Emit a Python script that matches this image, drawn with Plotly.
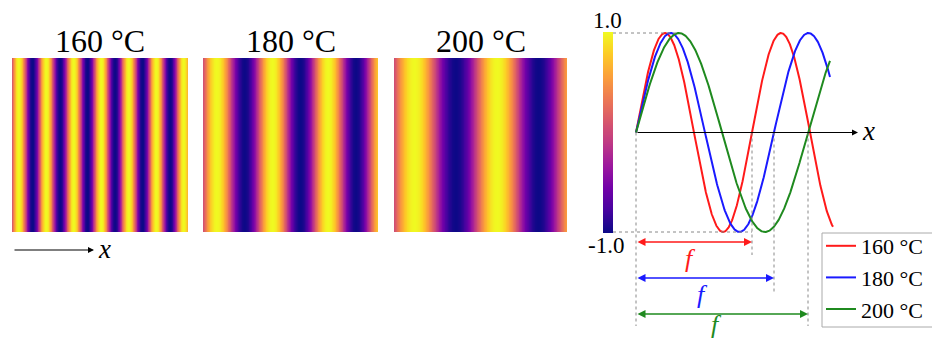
import numpy as np
import plotly.graph_objects as go

# ---------------- data ----------------
temps = ["160 °C", "180 °C", "200 °C"]
colors = ["#ff1a1a", "#1a1aff", "#1f8a1f"]
# stripe period of each heat-map panel (panel width = 176 units)
panel_width = 176
stripe_periods = [27.5, 56.0, 84.0]
# schematic waves on the right: period f of each temperature (a.u.)
wave_periods = [116, 138, 172]
wave_end = [197, 194, 194]
# value range of the colour bar
cb_min, cb_max = -1.0, 1.0
cb_labels = ["1.0", "-1.0"]

W, H = 932, 343
FONT = "Liberation Serif, Times New Roman, Times, serif"

def px(xp):
    return xp / W

def py(yp):
    return 1 - yp / H

fig = go.Figure()

# ---------------- heat-map panels ----------------
panel_x = [(12, 188), (203, 378), (394, 567)]
panel_y = (58, 232)
ncol = 400
xs = (np.arange(ncol) + 0.5) * panel_width / ncol
for i, P in enumerate(stripe_periods):
    z = np.sin(2 * np.pi * xs / P)
    sfx = "" if i == 0 else str(i + 1)
    fig.add_trace(go.Heatmap(
        x=xs, y=[0, 1], z=[z, z], colorscale="Plasma", zmin=-1, zmax=1,
        showscale=False, hoverinfo="skip", showlegend=False,
        xaxis="x" + sfx, yaxis="y" + sfx))
    fig.layout["xaxis" + sfx] = dict(domain=[px(panel_x[i][0]), px(panel_x[i][1])],
                                     range=[0, panel_width], visible=False, fixedrange=True)
    fig.layout["yaxis" + sfx] = dict(domain=[py(panel_y[1]), py(panel_y[0])],
                                     range=[-0.5, 1.5], visible=False, fixedrange=True)
    fig.add_annotation(text=temps[i], x=px((panel_x[i][0] + panel_x[i][1]) / 2), y=py(41),
                       xref="paper", yref="paper", showarrow=False,
                       font=dict(family=FONT, size=32, color="black"),
                       xanchor="center", yanchor="middle")

# arrow under the first panel
fig.add_annotation(x=px(94), y=py(250), xref="paper", yref="paper", ax=-81, ay=0,
                   text="", showarrow=True, arrowhead=2, arrowsize=1, arrowwidth=1.2,
                   arrowcolor="black")
fig.add_annotation(text="<i>x</i>", x=px(96), y=py(249), xref="paper", yref="paper",
                   showarrow=False, xanchor="left", yanchor="middle",
                   font=dict(family=FONT, size=27, color="black"))

# ---------------- right schematic ----------------
x0p, y0p, sc = 636, 132.5, 99.5
fig.layout["xaxis4"] = dict(domain=[0, 1], range=[-x0p, W - x0p], visible=False, fixedrange=True)
fig.layout["yaxis4"] = dict(domain=[0, 1], range=[(y0p - H) / sc, y0p / sc], visible=False,
                            fixedrange=True)

def yd(yp):
    return (y0p - yp) / sc

for t, P, c, xe in zip(temps, wave_periods, colors, wave_end):
    xw = np.linspace(0, xe, 600)
    fig.add_trace(go.Scatter(x=xw, y=np.sin(2 * np.pi * xw / P), mode="lines",
                             line=dict(color=c, width=2), name=t,
                             xaxis="x4", yaxis="y4", hoverinfo="skip"))

# x axis with arrow
fig.add_annotation(x=222, y=0, ax=0, ay=0, xref="x4", yref="y4", axref="x4", ayref="y4",
                   text="", showarrow=True, arrowhead=2, arrowsize=1, arrowwidth=1.2,
                   arrowcolor="black")
fig.add_annotation(text="<i>x</i>", x=224, y=0.02, xref="x4", yref="y4", showarrow=False,
                   xanchor="left", yanchor="middle", font=dict(family=FONT, size=27, color="black"))

dash = dict(color="#888888", width=1, dash="dot")
# horizontal guide lines at +1 / -1
fig.add_shape(type="line", x0=613 - x0p, x1=wave_periods[2] / 4, y0=1, y1=1,
              xref="x4", yref="y4", line=dash)
fig.add_shape(type="line", x0=613 - x0p, x1=wave_periods[0], y0=-1, y1=-1,
              xref="x4", yref="y4", line=dash)
# vertical guide lines
arrow_y = [242, 278, 314]
vline_end = [255, 293, 326]
fig.add_shape(type="line", x0=0, x1=0, y0=0, y1=yd(326), xref="x4", yref="y4", line=dash)
for P, ye in zip(wave_periods, vline_end):
    fig.add_shape(type="line", x0=P, x1=P, y0=0, y1=yd(ye), xref="x4", yref="y4", line=dash)

# double-headed period arrows with "f" labels
f_label_y = [258, 294, 324]
f_label_dx = [-4, -3, -6]
for P, c, ya, fy, fdx in zip(wave_periods, colors, arrow_y, f_label_y, f_label_dx):
    fig.add_annotation(x=P, y=yd(ya), ax=0, ay=yd(ya), xref="x4", yref="y4",
                       axref="x4", ayref="y4", text="", showarrow=True,
                       arrowhead=2, startarrowhead=2, arrowside="end+start",
                       arrowsize=1, startarrowsize=1, arrowwidth=1.6, arrowcolor=c)
    fig.add_annotation(text="<i>f</i>", x=P / 2 + fdx, y=yd(fy), xref="x4", yref="y4",
                       showarrow=False, xanchor="center", yanchor="middle",
                       font=dict(family=FONT, size=26, color=c))

# ---------------- colour bar ----------------
cb_vals = np.linspace(cb_min, cb_max, 200)
fig.add_trace(go.Heatmap(x=[0], y=cb_vals, z=cb_vals.reshape(-1, 1), colorscale="Plasma",
                         zmin=cb_min, zmax=cb_max, showscale=False, hoverinfo="skip",
                         showlegend=False, xaxis="x5", yaxis="y5"))
fig.layout["xaxis5"] = dict(domain=[px(603), px(613)], range=[-0.5, 0.5], visible=False,
                            fixedrange=True)
fig.layout["yaxis5"] = dict(domain=[py(233), py(32)], range=[cb_min, cb_max], visible=False,
                            fixedrange=True)
fig.add_annotation(text=cb_labels[0], x=px(607), y=py(21), xref="paper", yref="paper",
                   showarrow=False, xanchor="center", yanchor="middle",
                   font=dict(family=FONT, size=23, color="black"))
fig.add_annotation(text=cb_labels[1], x=px(606), y=py(245), xref="paper", yref="paper",
                   showarrow=False, xanchor="center", yanchor="middle",
                   font=dict(family=FONT, size=23, color="black"))

# legend frame
fig.add_shape(type="rect", xref="paper", yref="paper", x0=px(822), x1=px(940),
              y0=py(327), y1=py(233), line=dict(color="#aaaaaa", width=1),
              fillcolor="white", layer="below")

fig.update_layout(
    width=W, height=H, margin=dict(l=0, r=0, t=0, b=0, autoexpand=False),
    paper_bgcolor="white", plot_bgcolor="rgba(0,0,0,0)",
    showlegend=True,
    legend=dict(x=px(821), y=py(225), xanchor="left", yanchor="top",
                borderwidth=0, bgcolor="rgba(0,0,0,0)",
                font=dict(family=FONT, size=22, color="black"),
                itemwidth=30),
)

fig.write_html("out.html")
